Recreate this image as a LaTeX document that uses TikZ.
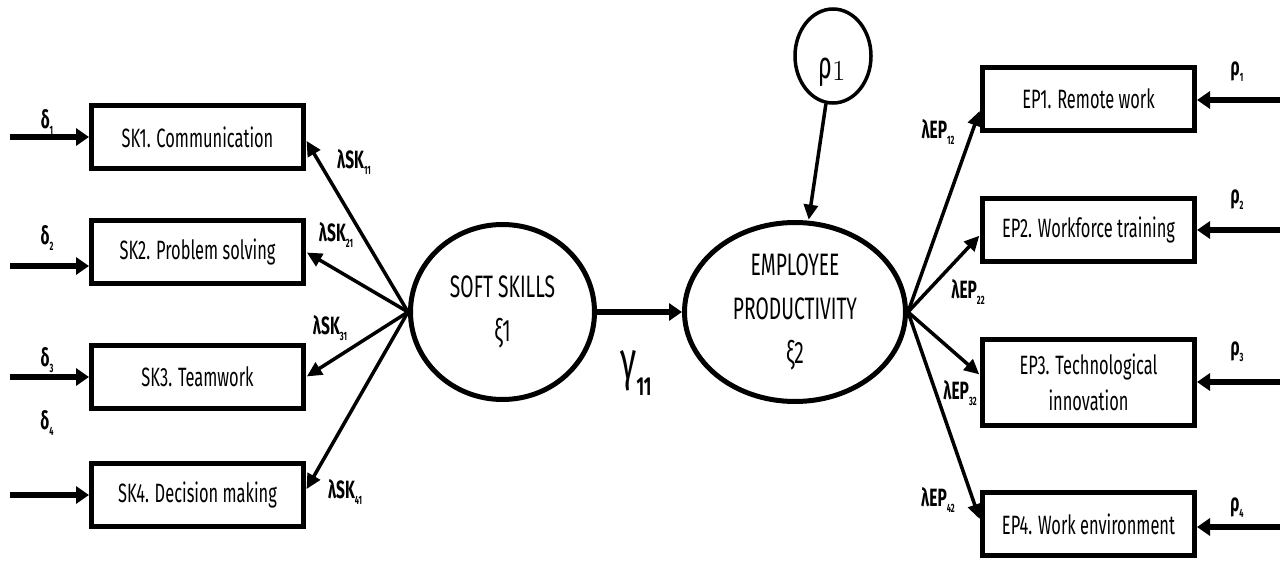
\documentclass[tikz,border=0pt]{standalone}
\usepackage{fontspec}
\setmainfont{Fira Sans}[FakeStretch=0.62]
\newfontfamily\linf{Fira Sans}[FakeStretch=0.62]
\newfontfamily\lmfont{Latin Modern Roman}
\usetikzlibrary{arrows.meta,shapes.geometric}
\newcommand{\sublab}[2]{{\linf\bfseries #1}\raisebox{-6pt}{\linf\bfseries\fontsize{12}{12}\selectfont #2}}
\tikzset{
  obs/.style={draw, line width=5pt, minimum width=212pt, minimum height=63pt, inner sep=0pt,
    align=center, font=\fontsize{26.5}{36}\selectfont},
  lat/.style={draw, ellipse, line width=5pt, inner sep=0pt, align=center,
    font=\fontsize{31}{44}\selectfont},
  load/.style={line width=3.5pt, -{Triangle[length=15pt,width=14pt]}, shorten >=1pt},
  errarr/.style={line width=6pt, -{Triangle[length=13pt,width=17pt]}},
  lbl/.style={inner sep=0pt, font=\fontsize{25}{26}\selectfont},
}
\begin{document}
\begin{tikzpicture}[x=1pt,y=-1pt]
\useasboundingbox (0,0) rectangle (1284,561);
% left indicators
\node[obs] (sk1) at (197.5,137) {SK1. Communication};
\node[obs] (sk2) at (197.5,252) {SK2. Problem solving};
\node[obs] (sk3) at (197.5,377) {SK3. Teamwork};
\node[obs] (sk4) at (197.5,495) {SK4. Decision making};
% right indicators
\node[obs] (ep1) at (1088.5,99) {EP1. Remote work};
\node[obs] (ep2) at (1088.5,230) {EP2. Workforce training};
\node[obs, minimum height=86pt] (ep3) at (1088.5,382) {EP3. Technological\\innovation};
\node[obs] (ep4) at (1088.5,524) {EP4. Work environment};
% latent
\node[lat, minimum width=184pt, minimum height=175pt] (ss) at (502.5,312) {SOFT SKILLS\\{\linf ξ1}};
\node[lat, minimum width=221pt, minimum height=179pt] (ep) at (795,312) {EMPLOYEE\\PRODUCTIVITY\\{\linf ξ2}};
\node[draw, ellipse, line width=3.5pt, minimum width=76pt, minimum height=94pt, inner sep=0pt] (rho) at (833,56) {};
\node[inner sep=0pt] (rhotxt) at (832,72)
  {{\linf\fontsize{38}{38}\selectfont ρ}\raisebox{-2pt}{\lmfont\fontsize{29}{29}\selectfont 1}};
% error coordinates
\coordinate (d1) at (10,137);
\coordinate (d2) at (10,266);
\coordinate (d3) at (10,377);
\coordinate (d4) at (10,495);
\coordinate (r1) at (1280,100);
\coordinate (r2) at (1280,230);
\coordinate (r3) at (1280,382);
\coordinate (r4) at (1280,527);
\draw[errarr] (d1) -- (sk1.west |- d1);
\draw[errarr] (d2) -- (sk2.west |- d2);
\draw[errarr] (d3) -- (sk3.west |- d3);
\draw[errarr] (d4) -- (sk4.west |- d4);
\draw[errarr] (r1) -- (ep1.east |- r1);
\draw[errarr] (r2) -- (ep2.east |- r2);
\draw[errarr] (r3) -- (ep3.east |- r3);
\draw[errarr] (r4) -- (ep4.east |- r4);
% loadings
\draw[load] (ss.west) -- ([yshift=-3pt]sk1.east);
\draw[load] (ss.west) -- (sk2.east);
\draw[load] (ss.west) -- (sk3.east);
\draw[load] (ss.west) -- ([yshift=5pt]sk4.east);
\draw[load] (ep.east) -- ([yshift=-11pt]ep1.west);
\draw[load] (ep.east) -- ([yshift=-5pt]ep2.west);
\draw[load] (ep.east) -- ([yshift=7pt]ep3.west);
\draw[load] (ep.east) -- ([yshift=4pt]ep4.west);
% structural
\draw[errarr] (ss) -- (ep);
\draw[load] (rho) -- (ep);
% labels
\node[lbl] (ld1) at (47,122) {\sublab{δ}{1}};
\node[lbl] (ld2) at (47,238) {\sublab{δ}{2}};
\node[lbl] (ld3) at (47,360) {\sublab{δ}{3}};
\node[lbl] (ld4) at (47,423) {\sublab{δ}{4}};
\node[lbl] (lsk1) at (354,162) {\sublab{λSK}{11}};
\node[lbl] (lsk2) at (336,235) {\sublab{λSK}{21}};
\node[lbl] (lsk3) at (330,328) {\sublab{λSK}{31}};
\node[lbl] (lsk4) at (345,492) {\sublab{λSK}{41}};
\node[lbl] (lep1) at (938,132) {\sublab{λEP}{12}};
\node[lbl] (lep2) at (968,292) {\sublab{λEP}{22}};
\node[lbl] (lep3) at (960,393) {\sublab{λEP}{32}};
\node[lbl] (lep4) at (938,500) {\sublab{λEP}{42}};
\node[lbl] (lr1) at (1237,72) {\sublab{ρ}{1}};
\node[lbl] (lr2) at (1237,200) {\sublab{ρ}{2}};
\node[lbl] (lr3) at (1237,352) {\sublab{ρ}{3}};
\node[lbl] (lr4) at (1237,508) {\sublab{ρ}{4}};
\node[inner sep=0pt] (gam) at (636,373) {{\linf\fontsize{54}{54}\selectfont γ}\raisebox{-16pt}{\linf\bfseries\fontsize{26}{26}\selectfont 11}};
\end{tikzpicture}
\end{document}
